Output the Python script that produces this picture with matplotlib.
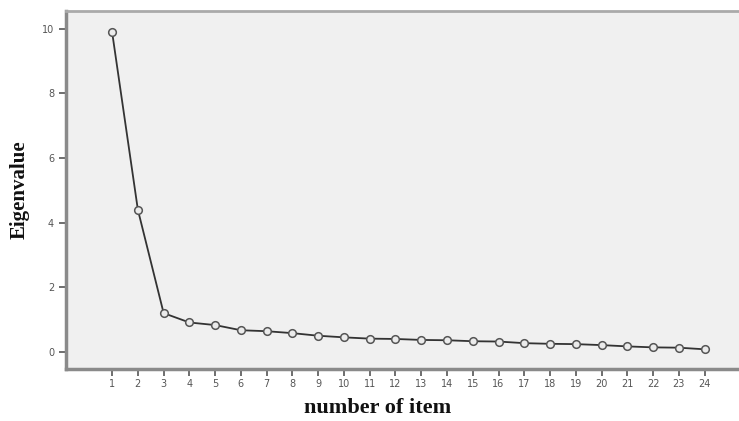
import matplotlib
matplotlib.use("Agg")
import matplotlib.pyplot as plt

items = list(range(1, 25))
eigenvalues = [9.9, 4.4, 1.2, 0.91, 0.83, 0.67, 0.64, 0.58, 0.50, 0.45,
               0.41, 0.40, 0.37, 0.36, 0.33, 0.32, 0.27, 0.25, 0.24, 0.21,
               0.17, 0.14, 0.13, 0.08]
y_ticks = [0, 2, 4, 6, 8, 10]

fig = plt.figure(figsize=(7.39, 4.21), dpi=100)
ax = fig.add_axes([0.0893, 0.1235, 0.92, 0.851])
ax.set_facecolor("#f0f0f0")

ax.plot(items, eigenvalues, color="#333333", linewidth=1.3,
        marker="o", markersize=5.5, markerfacecolor="#ebebeb",
        markeredgecolor="#555555", markeredgewidth=1.1)

ax.set_xlim(-0.79, 25.6)
ax.set_ylim(-0.53, 10.56)
ax.set_xticks(items)
ax.set_yticks(y_ticks)
ax.tick_params(axis="both", direction="out", length=5, width=1.2,
               color="#555555", labelcolor="#555555", labelsize=7)
ax.tick_params(axis="x", pad=2)

for side in ("left", "bottom"):
    ax.spines[side].set_color("#8a8a8a")
    ax.spines[side].set_linewidth(2.5)
ax.spines["top"].set_color("#aaaaaa")
ax.spines["top"].set_linewidth(2)
ax.spines["right"].set_visible(False)

ax.set_xlabel("number of item", family="Liberation Serif", fontweight="bold",
              fontsize=16, color="#111111")
ax.xaxis.set_label_coords(0.459, -0.08)
ax.set_ylabel("Eigenvalue", family="Liberation Serif", fontweight="bold",
              fontsize=15, color="#111111", labelpad=9)

fig.savefig("out.png", dpi=100)
